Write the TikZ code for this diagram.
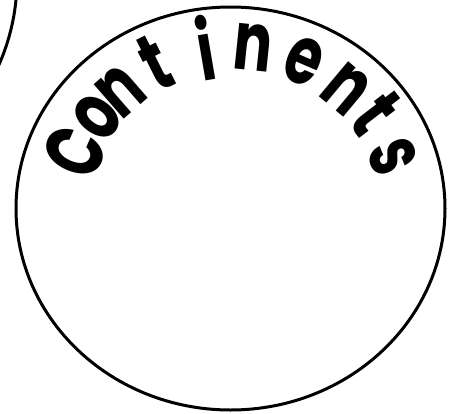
\documentclass[tikz,border=0pt]{standalone}
\usepackage{fontspec}
\newfontfamily\handfont[FakeStretch=0.7]{Poppins}
\begin{document}
\begin{tikzpicture}[x=1pt, y=1pt,
    rim/.style={draw=black, line width=3pt},
    ltr/.style={anchor=base, inner sep=0pt,
                font=\handfont\bfseries\fontsize{82}{82}\selectfont}
  ]
    \useasboundingbox (0,0) rectangle (453,-413);

    % Neighbour circle, cut off by the page
    \begin{scope}
      \clip (0,0) rectangle (453,-413);
      \draw[rim] (-195,21) circle[radius=212];
    \end{scope}

    % Main circle
    \draw[rim] (230.5,-208.5) ellipse[x radius=214.5, y radius=201.5];

    % Title round the top
    \coordinate (ctr) at (235,-222);
    \node[ltr, rotate=66.3] (c1)  at ([shift={(156.3:146)}]ctr) {C};
    \node[ltr, rotate=52.6] (c2)  at ([shift={(142.6:150)}]ctr) {o};
    \node[ltr, rotate=41.1] (c3)  at ([shift={(131.1:150)}]ctr) {n};
    \node[ltr, rotate=26.6] (c4)  at ([shift={(116.6:150)}]ctr) {t};
    \node[ltr, rotate=9.7]  (c5)  at ([shift={(99.7:144)}]ctr)  {i};
    \node[ltr, rotate=-5.9] (c6)  at ([shift={(84.1:152)}]ctr)  {n};
    \node[ltr, rotate=-23.2] (c7) at ([shift={(66.8:152)}]ctr)  {e};
    \node[ltr, rotate=-39.9] (c8) at ([shift={(50.1:150)}]ctr)  {n};
    \node[ltr, rotate=-52.5] (c9) at ([shift={(37.5:150)}]ctr)  {t};
    \node[ltr, rotate=-67.6] (c10) at ([shift={(22.4:148)}]ctr) {s};
  \end{tikzpicture}
\end{document}
